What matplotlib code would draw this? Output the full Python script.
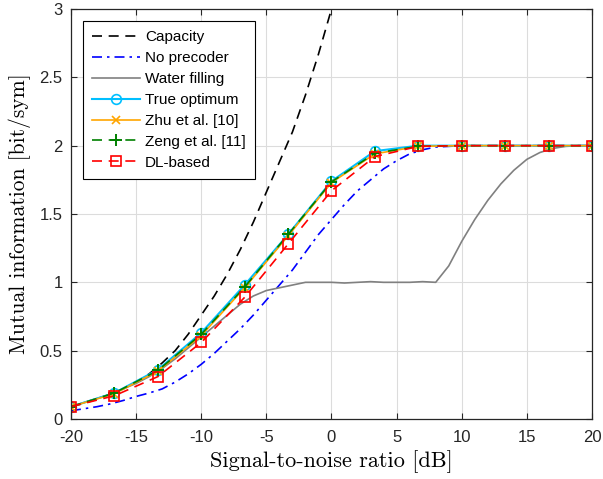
import matplotlib
matplotlib.use("Agg")
import matplotlib.pyplot as plt
import numpy as np

# SNR grids
snr_fine = list(range(-20, 21))
snr_cap = list(range(-20, 2))
snr_mark = [-20, -16.67, -13.33, -10, -6.67, -3.33, 0, 3.33, 6.67, 10, 13.33, 16.67, 20]

# Curves
capacity = [0.09, 0.115, 0.145, 0.18, 0.22, 0.27, 0.33, 0.41, 0.50, 0.62, 0.76,
            0.90, 1.06, 1.24, 1.44, 1.66, 1.88, 2.10, 2.37, 2.67, 3.00, 3.35]
no_precoder = [0.06, 0.075, 0.09, 0.11, 0.135, 0.165, 0.19, 0.22, 0.27, 0.33, 0.40,
               0.48, 0.57, 0.66, 0.76, 0.87, 0.98, 1.09, 1.22, 1.35, 1.46, 1.57,
               1.67, 1.75, 1.83, 1.89, 1.94, 1.97, 1.99, 1.995, 2.0, 2.0, 2.0, 2.0,
               2.0, 2.0, 2.0, 2.0, 2.0, 2.0, 2.0]
water_filling = [0.09, 0.12, 0.15, 0.18, 0.22, 0.26, 0.31, 0.37, 0.44, 0.52, 0.60,
                 0.68, 0.76, 0.84, 0.90, 0.94, 0.96, 0.98, 1.0, 1.0, 1.0, 0.995,
                 1.0, 1.005, 1.0, 1.0, 1.0, 1.005, 1.0, 1.12, 1.30, 1.46, 1.60,
                 1.72, 1.82, 1.90, 1.95, 1.98, 1.995, 2.0, 2.0]
true_opt = [0.09, 0.19, 0.36, 0.63, 0.98, 1.35, 1.74, 1.96, 2.0, 2.0, 2.0, 2.0, 2.0]
zhu = [0.09, 0.185, 0.35, 0.61, 0.96, 1.34, 1.73, 1.94, 1.995, 2.0, 2.0, 2.0, 2.0]
zeng = [0.09, 0.19, 0.355, 0.62, 0.965, 1.35, 1.735, 1.945, 1.995, 2.0, 2.0, 2.0, 2.0]
dl_based = [0.09, 0.17, 0.31, 0.56, 0.89, 1.28, 1.67, 1.92, 1.995, 2.0, 2.0, 2.0, 2.0]

plt.rcParams['font.family'] = ['Liberation Sans', 'DejaVu Sans']
plt.rcParams['axes.unicode_minus'] = False

fig = plt.figure(figsize=(6.03, 4.79), dpi=100)
ax = fig.add_axes([0.1177, 0.1253, 0.8641, 0.8559])

ax.plot(snr_cap, capacity, color='k', linestyle=(0, (6, 4)), lw=1.2, label='Capacity')
ax.plot(snr_fine, no_precoder, color='b', linestyle=(0, (6, 3, 1.5, 3)), lw=1.2,
        label='No precoder')
ax.plot(snr_fine, water_filling, color='gray', linestyle='-', lw=1.2, label='Water filling')
ax.plot(snr_mark, true_opt, color='#00BFFF', linestyle='-', lw=1.5, marker='o', ms=7,
        mfc='none', mew=1.2, label='True optimum')
ax.plot(snr_mark, zhu, color='#FFA500', linestyle='-', lw=1.2, marker='x', ms=6,
        mew=1.2, label='Zhu et al. [10]')
ax.plot(snr_mark, zeng, color='#008000', linestyle=(0, (6, 4)), lw=1.2, marker='+', ms=9,
        mew=1.4, label='Zeng et al. [11]')
ax.plot(snr_mark, dl_based, color='r', linestyle=(0, (6, 4)), lw=1.2, marker='s', ms=7.5,
        mfc='none', mew=1.2, label='DL-based')

ax.set_xlim(-20, 20)
ax.set_ylim(0, 3)
ax.set_xticks(np.arange(-20, 21, 5))
ax.set_yticks([0, 0.5, 1, 1.5, 2, 2.5, 3])
ax.set_yticklabels(['0', '0.5', '1', '1.5', '2', '2.5', '3'])
ax.grid(True, color='#dcdcdc', lw=0.8)
ax.set_axisbelow(True)
ax.tick_params(direction='in', labelsize=12, length=4, colors='#262626',
               top=True, right=True)
ax.tick_params(axis='x', pad=8)
ax.tick_params(axis='y', pad=6)
for sp in ax.spines.values():
    sp.set_color('#262626')
    sp.set_linewidth(0.9)

ax.set_xlabel('Signal-to-noise ratio [dB]', family='cmr10', fontsize=16, labelpad=4)
ax.set_ylabel('Mutual information [bit/sym]', family='cmr10', fontsize=15.5, labelpad=6)

leg = ax.legend(loc='upper left', bbox_to_anchor=(0.0, 1.0), fontsize=11,
                handlelength=3.1, fancybox=False, framealpha=1, edgecolor='k',
                borderpad=0.6, labelspacing=0.45, handletextpad=0.35,
                borderaxespad=0.8)
leg.get_frame().set_linewidth(0.8)

fig.savefig('out.png', dpi=100)
